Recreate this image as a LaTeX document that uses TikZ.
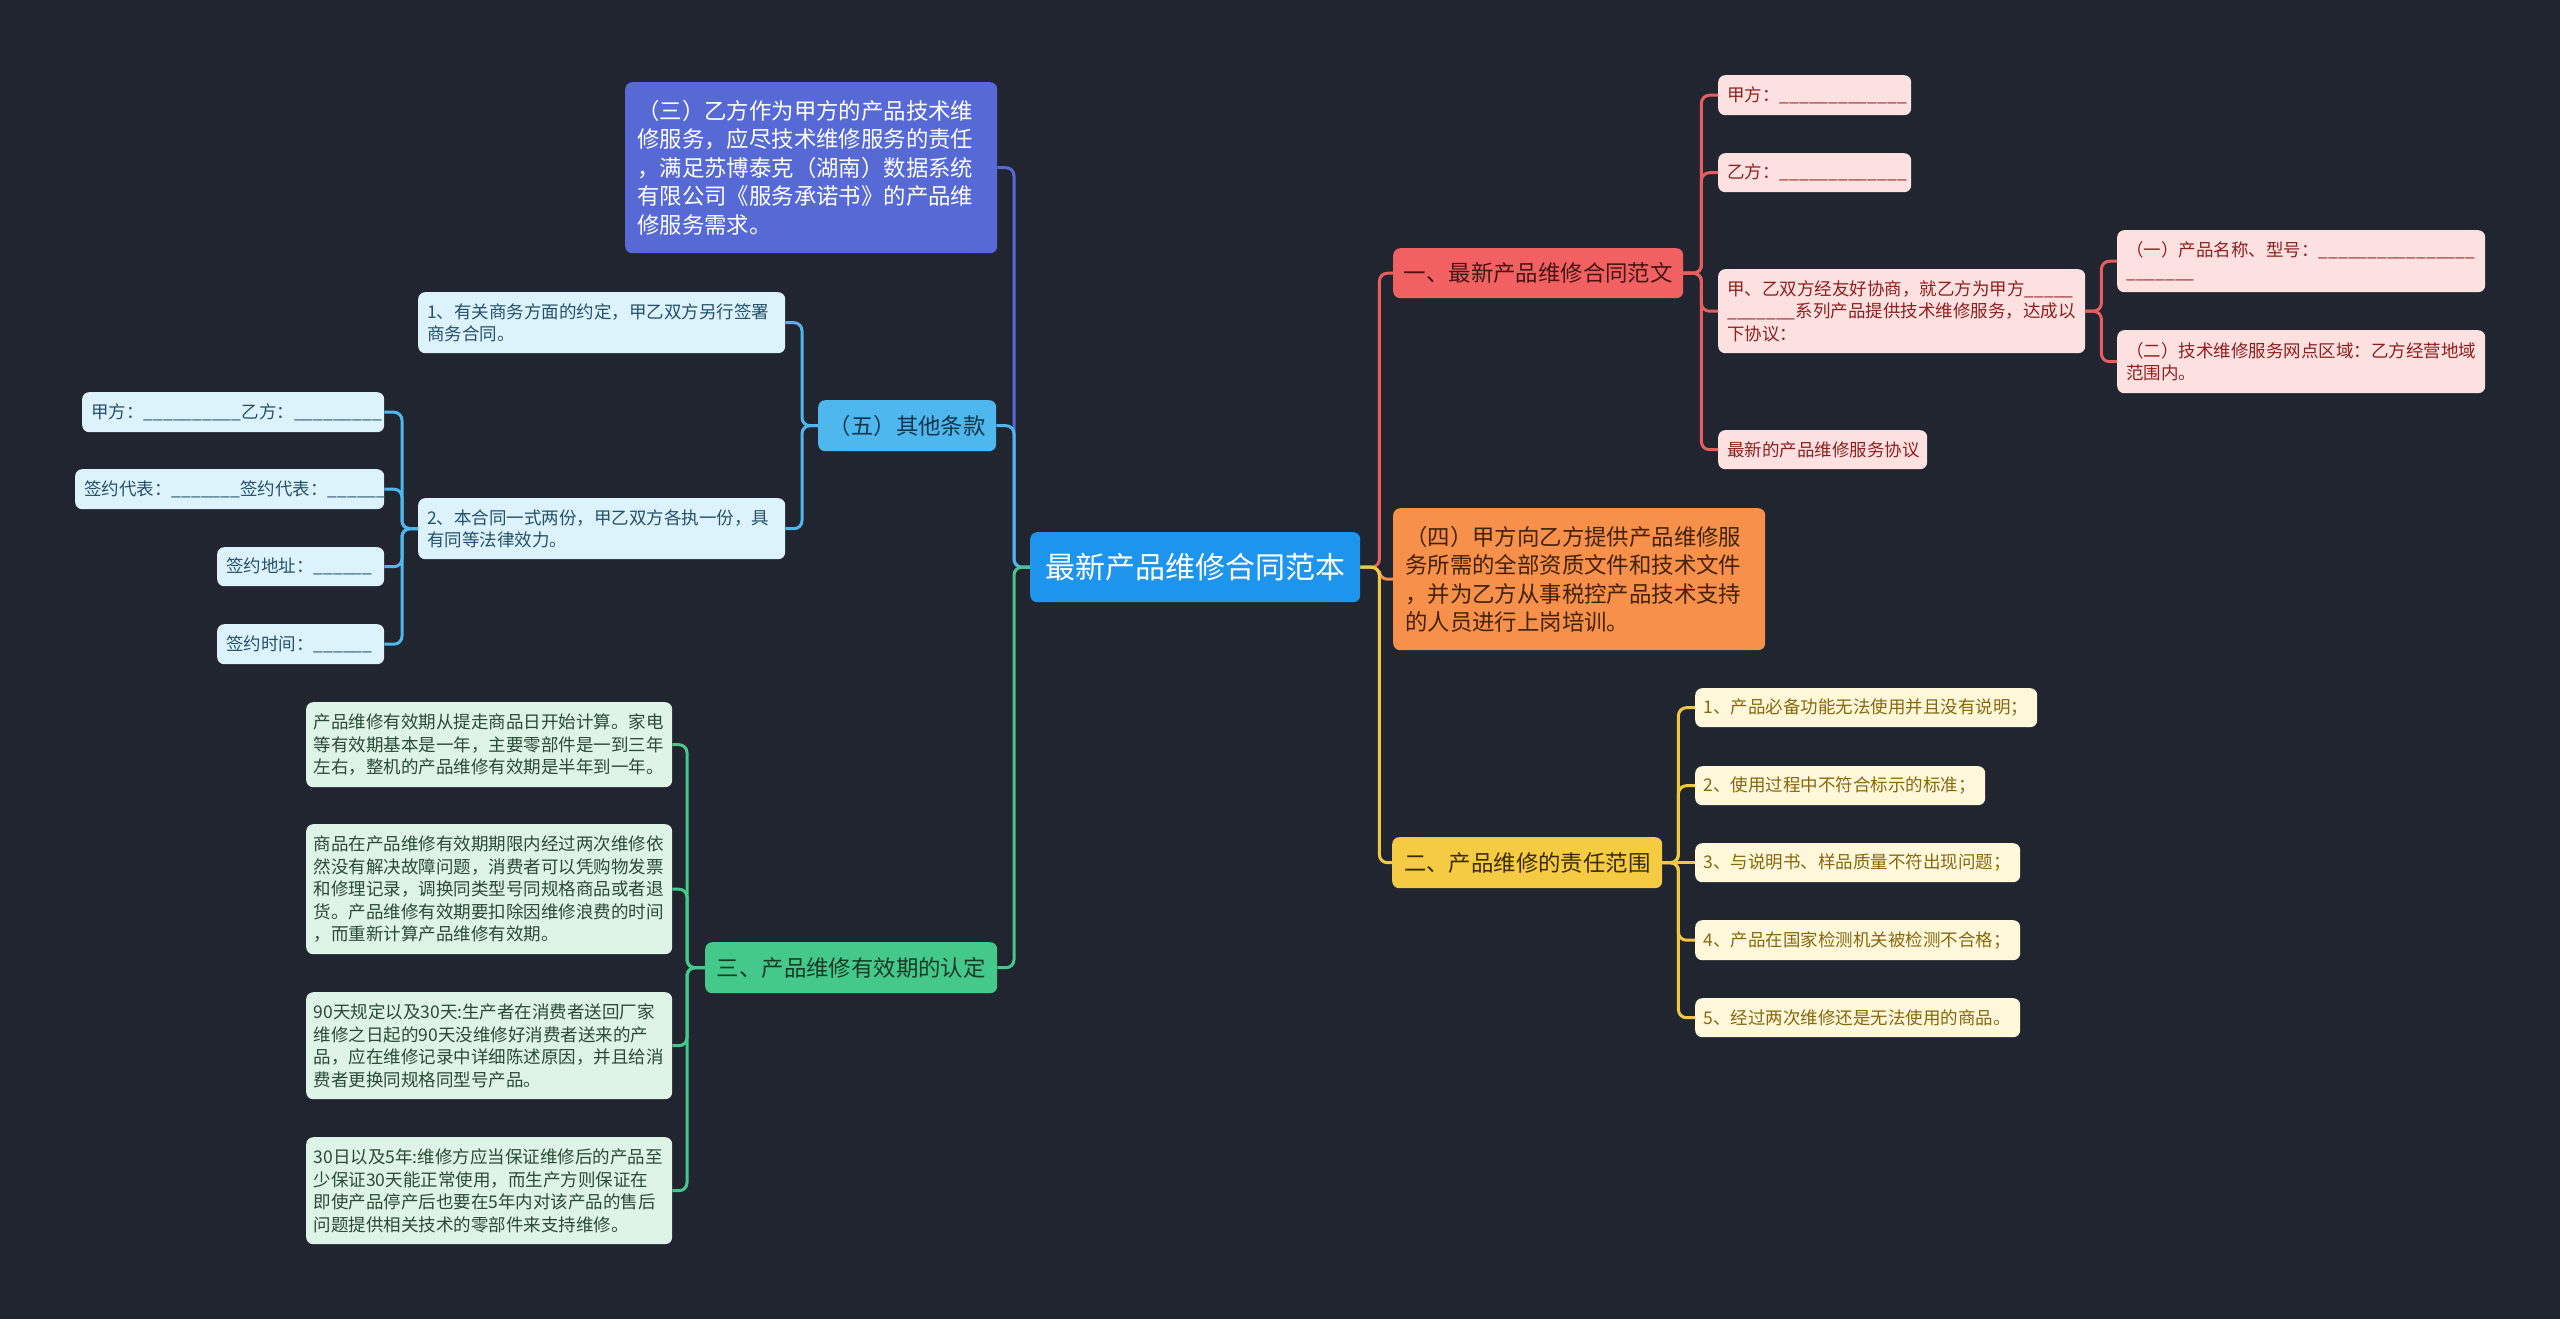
\documentclass[tikz,border=0pt]{standalone}
\usepackage{fontspec}
\setmainfont{Noto Sans CJK SC}
\definecolor{bg}{HTML}{21252F}
\definecolor{rootc}{HTML}{1E95EC}
\definecolor{c3}{HTML}{5669D5}
\definecolor{c5}{HTML}{4DB7EE}
\definecolor{c5l}{HTML}{DDF3FC}
\definecolor{c5t}{HTML}{24506A}
\definecolor{c5d}{HTML}{15354A}
\definecolor{cg}{HTML}{45C98A}
\definecolor{cgl}{HTML}{DDF4E7}
\definecolor{cgt}{HTML}{2B4A38}
\definecolor{cgd}{HTML}{173A27}
\definecolor{cr}{HTML}{F26161}
\definecolor{crline}{HTML}{E85D5D}
\definecolor{crl}{HTML}{FDE1E1}
\definecolor{crt}{HTML}{8E1F1F}
\definecolor{crd}{HTML}{451414}
\definecolor{co}{HTML}{F7904B}
\definecolor{cod}{HTML}{422208}
\definecolor{cy}{HTML}{F6CB44}
\definecolor{cyline}{HTML}{F2C744}
\definecolor{cyl}{HTML}{FFF7DA}
\definecolor{cyt}{HTML}{85680F}
\definecolor{cyd}{HTML}{3A2C00}
\newcommand\blank[1]{\foreach \i in {1,...,#1}{\_}}
\begin{document}
\begin{tikzpicture}[x=1pt,y=-1pt,
  box/.style={rounded corners=7pt, anchor=north west, inner xsep=9pt, inner ysep=0pt, align=left},
  lf/.style={box, font=\fontsize{17.5}{22.5}\selectfont},
  lvm/.style={box, inner xsep=12pt, font=\fontsize{22.4}{28.5}\selectfont},
  lvs/.style={box, inner xsep=10pt, align=center, font=\fontsize{22.4}{28}\selectfont},
  conn/.style={line width=3pt, rounded corners=8pt},
  l3/.style={conn, draw=c3},
  l5/.style={conn, draw=c5},
  lg/.style={conn, draw=cg},
  lr/.style={conn, draw=crline},
  lo/.style={conn, draw=co},
  ly/.style={conn, draw=cyline}]
\fill[bg] (0,0) rectangle (2560,1319);
\useasboundingbox (0,0) rectangle (2560,1319);

% root
\node[box, inner xsep=10pt, align=center, fill=rootc, text=white, font=\fontsize{30}{36}\selectfont,
  text width=310pt, minimum height=70pt] (root) at (1030,532) {最新产品维修合同范本};

% ---------- left side ----------
\node[lvm, fill=c3, text=white, text width=348pt, minimum height=171pt] (s3) at (625,82)
 {（三）乙方作为甲方的产品技术维\\修服务，应尽技术维修服务的责任\\，满足苏博泰克（湖南）数据系统\\有限公司《服务承诺书》的产品维\\修服务需求。};

\node[lvs, fill=c5, text=c5d, text width=158pt, minimum height=51pt] (w5) at (818,400) {（五）其他条款};

\node[lf, fill=c5l, text=c5t, text width=349pt, minimum height=61pt] (a1) at (418,292)
 {1、有关商务方面的约定，甲乙双方另行签署\\商务合同。};
\node[lf, fill=c5l, text=c5t, text width=349pt, minimum height=61pt] (a2) at (418,498)
 {2、本合同一式两份，甲乙双方各执一份，具\\有同等法律效力。};

\node[lf, fill=c5l, text=c5t, text width=284pt, minimum height=40pt] (q1) at (82,392)
 {甲方：\blank{10}乙方：\blank{9}};
\node[lf, fill=c5l, text=c5t, text width=291pt, minimum height=40pt] (q2) at (75,469)
 {签约代表：\blank{7}签约代表：\blank{6}};
\node[lf, fill=c5l, text=c5t, text width=149pt, minimum height=39pt] (q3) at (217,547)
 {签约地址：\blank{6}};
\node[lf, fill=c5l, text=c5t, text width=149pt, minimum height=40pt] (q4) at (217,624)
 {签约时间：\blank{6}};

\node[lvs, fill=cg, text=cgd, text width=272pt, minimum height=51pt] (g) at (705,942) {三、产品维修有效期的认定};

\node[lf, inner xsep=7.5pt, fill=cgl, text=cgt, text width=351pt, minimum height=85pt] (g1) at (306,702)
 {产品维修有效期从提走商品日开始计算。家电\\等有效期基本是一年，主要零部件是一到三年\\左右，整机的产品维修有效期是半年到一年。};
\node[lf, inner xsep=7.5pt, fill=cgl, text=cgt, text width=351pt, minimum height=130pt] (g2) at (306,824)
 {商品在产品维修有效期期限内经过两次维修依\\然没有解决故障问题，消费者可以凭购物发票\\和修理记录，调换同类型号同规格商品或者退\\货。产品维修有效期要扣除因维修浪费的时间\\，而重新计算产品维修有效期。};
\node[lf, inner xsep=7.5pt, fill=cgl, text=cgt, text width=351pt, minimum height=107pt] (g3) at (306,992)
 {90天规定以及30天:生产者在消费者送回厂家\\维修之日起的90天没维修好消费者送来的产\\品，应在维修记录中详细陈述原因，并且给消\\费者更换同规格同型号产品。};
\node[lf, inner xsep=7.5pt, fill=cgl, text=cgt, text width=351pt, minimum height=107pt] (g4) at (306,1137)
 {30日以及5年:维修方应当保证维修后的产品至\\少保证30天能正常使用，而生产方则保证在\\即使产品停产后也要在5年内对该产品的售后\\问题提供相关技术的零部件来支持维修。};

% ---------- right side ----------
\node[lvs, fill=cr, text=crd, text width=270pt, minimum height=50pt] (one) at (1393,248) {一、最新产品维修合同范文};

\node[lf, fill=crl, text=crt, text width=175pt, minimum height=40pt] (r1) at (1718,75) {甲方：\blank{13}};
\node[lf, fill=crl, text=crt, text width=175pt, minimum height=39pt] (r2) at (1718,153) {乙方：\blank{13}};
\node[lf, fill=crl, text=crt, text width=349pt, minimum height=84pt] (r3) at (1718,269)
 {甲、乙双方经友好协商，就乙方为甲方\blank{5}\\\blank{7}系列产品提供技术维修服务，达成以\\下协议：};
\node[lf, fill=crl, text=crt, text width=191pt, minimum height=39pt] (r4) at (1718,430) {最新的产品维修服务协议};

\node[lf, fill=crl, text=crt, text width=350pt, minimum height=62pt] (r3a) at (2117,230)
 {（一）产品名称、型号：\blank{16}\\\blank{7}};
\node[lf, fill=crl, text=crt, text width=350pt, minimum height=63pt] (r3b) at (2117,330)
 {（二）技术维修服务网点区域：乙方经营地域\\范围内。};

\node[lvm, fill=co, text=cod, text width=348pt, minimum height=142pt] (four) at (1393,508)
 {（四）甲方向乙方提供产品维修服\\务所需的全部资质文件和技术文件\\，并为乙方从事税控产品技术支持\\的人员进行上岗培训。};

\node[lvs, fill=cy, text=cyd, text width=250pt, minimum height=51pt] (two) at (1392,837) {二、产品维修的责任范围};

\node[lf, inner xsep=8.5pt, fill=cyl, text=cyt, text width=325pt, minimum height=39pt] (y1) at (1695,688) {1、产品必备功能无法使用并且没有说明；};
\node[lf, inner xsep=8.5pt, fill=cyl, text=cyt, text width=273pt, minimum height=39pt] (y2) at (1695,766) {2、使用过程中不符合标示的标准；};
\node[lf, inner xsep=8.5pt, fill=cyl, text=cyt, text width=308pt, minimum height=39pt] (y3) at (1695,843) {3、与说明书、样品质量不符出现问题；};
\node[lf, inner xsep=8.5pt, fill=cyl, text=cyt, text width=308pt, minimum height=40pt] (y4) at (1695,920) {4、产品在国家检测机关被检测不合格；};
\node[lf, inner xsep=8.5pt, fill=cyl, text=cyt, text width=308pt, minimum height=39pt] (y5) at (1695,998) {5、经过两次维修还是无法使用的商品。};

% ---------- connectors ----------
\draw[l3] (root.west) -- ++(-16,0) |- (s3.east);
\draw[l5] (root.west) -- ++(-16,0) |- (w5.east);
\draw[lg] (root.west) -- ++(-16,0) |- (g.east);

\draw[l5] (w5.west) -- ++(-16,0) |- (a1.east);
\draw[l5] (w5.west) -- ++(-16,0) |- (a2.east);
\foreach \n in {q1,q2,q3,q4} \draw[l5] (a2.west) -- ++(-16,0) |- (\n.east);
\foreach \n in {g1,g2,g3,g4} \draw[lg] (g.west) -- ++(-18,0) |- (\n.east);

\draw[lr] (root.east) -- ++(19,0) |- (one.west);
\draw[lo] (root.east) -- ++(19,0) |- (four.west);
\draw[ly] (root.east) -- ++(19,0) |- (two.west);

\foreach \n in {r1,r2,r3,r4} \draw[lr] (one.east) -- ++(18,0) |- (\n.west);
\foreach \n in {r3a,r3b} \draw[lr] (r3.east) -- ++(16,0) |- (\n.west);
\foreach \n in {y1,y2,y4,y5} \draw[ly] (two.east) -- ++(16,0) |- (\n.west);
\draw[ly] (two.east) -- (y3.west);
\end{tikzpicture}
\end{document}
